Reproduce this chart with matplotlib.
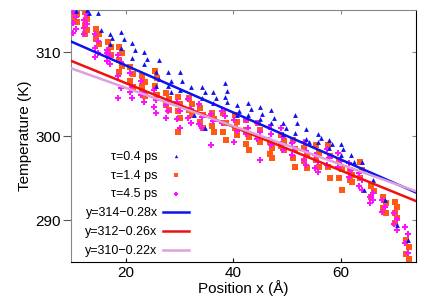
import numpy as np
import matplotlib
matplotlib.use("Agg")
import matplotlib.pyplot as plt

plt.rcParams['font.family'] = ['Liberation Sans', 'DejaVu Sans']

# column positions (Angstrom)
col_x = [10.6, 12.6, 14.7, 16.9, 19.0, 21.1, 23.3, 25.6, 27.8, 29.9,
         32.0, 34.1, 36.2, 38.3, 40.5, 42.7, 44.8, 47.0, 49.2, 51.3,
         53.5, 55.7, 57.8, 59.9, 61.9, 63.8, 65.9, 68.1, 70.3, 72.4]

# temperatures per column, tau = 0.4 ps
t04 = [[314.9, 315.5], [315.0, 314.6], [314.7, 312.6], [312.2, 311.7, 310.9],
       [312.4, 311.5, 310.5], [311.1, 310.3, 309.3], [310.0, 309.2, 308.6],
       [307.6, 306.8, 306.0, 309.0], [307.6, 306.6, 305.9, 305.3],
       [307.6, 306.5, 305.5], [305.8, 302.5], [305.8, 305.2, 304.5, 301.0],
       [305.2, 304.5, 303.9], [306.3, 305.4, 304.6, 304.0],
       [303.7, 303.0, 302.5], [303.9, 303.2, 302.5], [303.4, 302.6, 302.0],
       [303.1, 302.2, 301.5], [301.5, 300.9, 300.3], [302.5, 301.5, 300.4],
       [299.7, 299.3, 300.8], [300.3, 299.8, 299.3], [299.5, 299.0, 298.6],
       [299.1, 298.4, 297.7], [297.7, 296.9], [296.9, 293.6], [294.8],
       [292.4], [289.4], [287.6]]

# tau = 1.4 ps
t14 = [[314.9, 314.5, 314.0, 313.6, 315.3], [314.8, 313.9, 313.2, 312.6, 312.1],
       [312.8, 312.2, 311.6, 311.0, 311.8], [311.2, 310.6, 310.0, 309.6],
       [310.6, 309.9, 309.0, 308.3, 307.6], [308.2, 307.4, 306.6, 305.8],
       [307.2, 306.4, 305.6, 304.8, 306.0], [307.8, 306.9, 305.9, 304.9],
       [305.1, 304.4, 303.7, 303.1], [304.6, 303.8, 303.0, 302.2, 300.5],
       [304.5, 303.8, 303.1, 302.5], [303.3, 302.5, 301.7, 301.0],
       [302.8, 302.0, 301.2, 300.5], [302.7, 301.6, 300.5, 299.5],
       [302.5, 301.7, 300.9, 300.1], [300.7, 299.9, 299.1, 298.3, 301.9],
       [301.5, 300.7, 299.9, 299.3], [299.3, 298.6, 297.9, 297.4],
       [300.1, 299.4, 298.8, 298.3], [299.5, 298.5, 297.4, 296.3],
       [298.6, 297.8, 297.0, 296.2], [298.9, 298.0, 297.2, 296.3],
       [298.9, 297.6, 296.3, 295.0], [297.1, 296.1, 295.0, 293.6],
       [296.0, 295.4, 294.8, 294.5], [296.9, 295.9, 295.0],
       [294.0, 293.4, 292.7], [292.7, 292.0, 291.4, 290.8],
       [292.2, 291.5, 290.8, 290.2, 289.6], [287.6, 286.8, 286.0, 285.3]]

# tau = 4.5 ps
t45 = [[314.8, 314.2, 313.5, 312.8, 312.3], [313.8, 313.3, 312.9, 314.4, 312.2],
       [312.2, 311.3, 310.5, 309.9, 309.4], [310.2, 309.5, 308.9, 308.6, 309.9],
       [309.6, 308.8, 307.2, 305.7, 304.5], [307.5, 305.8, 305.2, 304.5],
       [306.5, 305.3, 304.9, 304.0], [305.5, 304.3, 303.5, 302.7],
       [303.7, 303.0, 302.2, 304.2], [304.0, 303.0, 302.0, 301.0],
       [304.4, 303.2, 302.2, 301.6], [303.8, 302.3, 301.4, 300.9],
       [302.6, 301.8, 298.9], [303.0, 302.4, 301.5], [301.9, 300.6, 299.3],
       [301.9, 301.0, 300.2], [301.5, 300.5, 299.7, 297.1],
       [301.1, 300.3, 299.5, 298.9], [301.0, 299.9, 299.0, 298.3],
       [299.2, 298.4, 297.8], [299.3, 298.2, 297.2, 296.6],
       [297.7, 296.9, 296.2, 295.7], [298.4, 297.4, 296.6],
       [298.0, 297.0, 296.3], [296.8, 296.0, 295.1],
       [295.6, 294.8, 294.1, 293.6], [292.7, 292.4, 292.0, 293.2],
       [292.4, 291.6, 291.0], [290.8, 290.1, 289.5, 288.8],
       [289.2, 288.3, 287.3, 286.1]]

# linear fits as drawn
fit_a = [314.0, 311.5, 310.3]
fit_b = [-0.28, -0.26, -0.228]
fit_labels = ['y=314\u22120.28x', 'y=312\u22120.26x', 'y=310\u22120.22x']
fit_colors = ['#0a14f0', '#f01010', '#dca0dc']


def flatten(cols, dx):
    # small alternating shift so points in one column don't sit on one line
    xs, ys = [], []
    for x, vals in zip(col_x, cols):
        for k, v in enumerate(vals):
            xs.append(x + dx + (0.25 if k % 2 else -0.25))
            ys.append(v)
    return xs, ys


fig = plt.figure(figsize=(4.36, 3.05), dpi=100)
ax = fig.add_axes([0.163, 0.141, 0.791, 0.826])

x1, y1 = flatten(t14, 0.0)
x2, y2 = flatten(t45, -0.15)
x0, y0 = flatten(t04, 0.35)

h14 = ax.scatter(x1, y1, marker='s', s=20, color='#ff5a14', linewidths=0, zorder=2)
h45 = ax.scatter(x2, y2, marker='P', s=18, color='#ff10ff', linewidths=0, zorder=3)
h04 = ax.scatter(x0, y0, marker='^', s=12, color='#1010f0', linewidths=0, zorder=4)

lines = []
for a, b, c in zip(fit_a, fit_b, fit_colors):
    ln = ax.axline((0, a), slope=b, color=c, lw=1.8, zorder=5)
    lines.append(ln)

ax.set_xlim(9.8, 74)
ax.set_ylim(285, 315)
ax.set_xticks([20, 40, 60])
ax.set_yticks([290, 300, 310])
ax.tick_params(axis='x', direction='in', length=3, labelsize=11, pad=3)
ax.tick_params(axis='y', direction='out', length=5.5, labelsize=11, pad=2,
               color='#555555')
ax.spines['left'].set_color('#888888')
ax.spines['top'].set_color('#888888')
ax.spines['right'].set_color('black')
ax.spines['bottom'].set_color('black')

top = ax.secondary_xaxis('top')
top.set_xticks([20, 40, 60])
top.tick_params(direction='in', length=3, labeltop=False, color='#888888')
top.spines['top'].set_visible(False)
right = ax.secondary_yaxis('right')
right.set_yticks([290, 300, 310])
right.tick_params(direction='in', length=3, labelright=False, color='#888888')
right.spines['right'].set_visible(False)

ax.set_xlabel('Position x (\u00c5)', fontsize=11, labelpad=0)
ax.set_ylabel('Temperature (K)', fontsize=11, labelpad=2)

handles = [h04, h14, h45] + lines
labels = ['\u03c4=0.4 ps', '\u03c4=1.4 ps', '\u03c4=4.5 ps'] + fit_labels
ax.legend(handles, labels, loc='lower left', bbox_to_anchor=(0.02, -0.01),
          frameon=False, markerfirst=False, fontsize=9, handlelength=2.1,
          handletextpad=0.4, labelspacing=0.55, markerscale=0.7,
          borderaxespad=0.2)

fig.savefig('out.png', dpi=100)
